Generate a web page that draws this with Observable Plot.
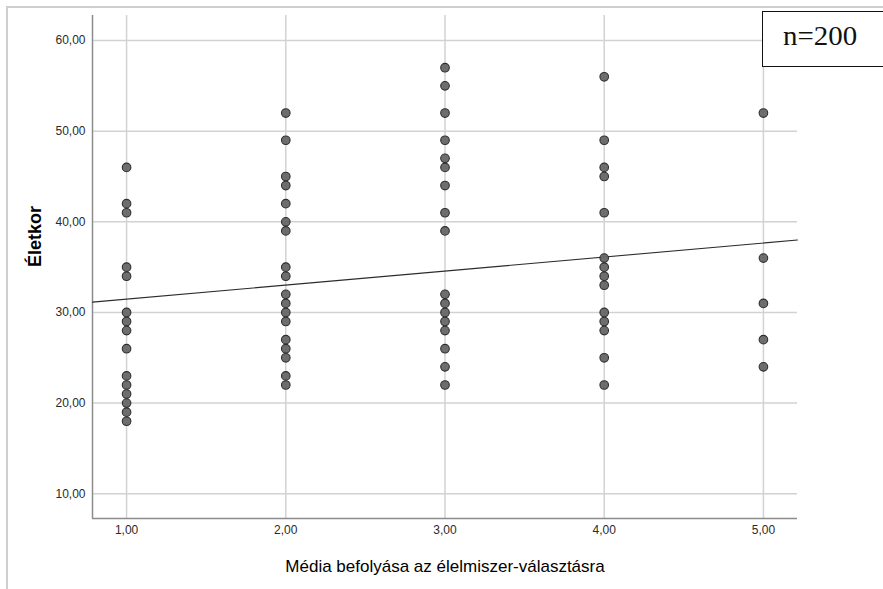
<!DOCTYPE html>
<html>
<head>
<meta charset="utf-8">
<script src="https://cdn.jsdelivr.net/npm/d3@7"></script>
<script src="https://cdn.jsdelivr.net/npm/@observablehq/plot@0.6"></script>
<style>
  html, body { margin: 0; padding: 0; background: #fff; }
  #wrap { position: relative; width: 883px; height: 589px; overflow: hidden; background: #fff; }
  #frame { position: absolute; left: 6px; top: 6px; width: 890px; height: 600px;
           border-top: 2px solid #cfcfcf; border-left: 2px solid #cfcfcf; box-sizing: border-box; }
  #chart { position: absolute; left: 0; top: 0; }
  #chart g[aria-label$="tick label"], #chart g[aria-label$="tick label"] text { font-size: 12px !important; }
  #nbox { position: absolute; left: 762px; top: 11px; width: 140px; height: 56px;
          border: 1.5px solid #111; box-sizing: border-box; background: #fff; }
  #nbox span { position: absolute; left: 20px; top: 9px; font-family: "Liberation Serif", "Times New Roman", serif;
               font-size: 27px; color: #111; transform: scaleX(1.07); transform-origin: left center; white-space: nowrap; }
</style>
</head>
<body>
<div id="wrap">
  <div id="frame"></div>
  <div id="chart"></div>
  <div id="nbox"><span>n=200</span></div>
</div>
<script>
// Data (distinct visible points per category)
const col1 = [46, 42, 41, 35, 34, 30, 29, 28, 26, 23, 22, 21, 20, 19, 18];
const col2 = [52, 49, 45, 44, 42, 40, 39, 35, 34, 32, 31, 30, 29, 27, 26, 25, 23, 22];
const col3 = [57, 55, 52, 49, 47, 46, 44, 41, 39, 32, 31, 30, 29, 28, 26, 24, 22];
const col4 = [56, 49, 46, 45, 41, 36, 35, 34, 33, 30, 29, 28, 25, 22];
const col5 = [52, 36, 31, 27, 24];
const categories = [1, 2, 3, 4, 5];
const xTicks = [1, 2, 3, 4, 5];
const yTicks = [10, 20, 30, 40, 50, 60];
const fitIntercept = 29.93;
const fitSlope = 1.546;
const xLabel = "Média befolyása az élelmiszer-választásra";
const yLabel = "Életkor";
const nLabel = "n=200";

const xDomain = [0.786, 5.214];
const yDomain = [7.27, 62.76];

const columns = [col1, col2, col3, col4, col5];
const points = columns.flatMap((vals, i) => vals.map(v => ({x: categories[i], y: v})));
const fitLine = xDomain.map(x => ({x, y: fitIntercept + fitSlope * x}));
const fmt = d => d.toFixed(2).replace(".", ",");

const font = "'Liberation Sans', Arial, sans-serif";

const chart = Plot.plot({
  width: 883,
  height: 589,
  marginLeft: 92,
  marginRight: 86,
  marginTop: 15,
  marginBottom: 71,
  style: { fontFamily: font, background: "transparent", overflow: "visible" },
  x: { domain: xDomain, label: null },
  y: { domain: yDomain, label: null },
  marks: [
    Plot.gridX(xTicks, { stroke: "#d2d2d2", strokeOpacity: 1, strokeWidth: 1.5 }),
    Plot.gridY(yTicks, { stroke: "#d2d2d2", strokeOpacity: 1, strokeWidth: 1.5 }),
    Plot.ruleX([xDomain[0]], { stroke: "#8c8c8c", strokeWidth: 1.5 }),
    Plot.ruleY([yDomain[0]], { stroke: "#8c8c8c", strokeWidth: 1.5 }),
    Plot.line(fitLine, { x: "x", y: "y", stroke: "#2b2b2b", strokeWidth: 1.1 }),
    Plot.dot(points, { x: "x", y: "y", r: 4.3, fill: "#666", fillOpacity: 0.95, stroke: "#2e2e2e", strokeWidth: 1.1 }),
    Plot.axisX(xTicks, { tickSize: 0, tickPadding: 7, tickFormat: fmt, fill: "#2a2a2a", label: null }),
    Plot.axisY(yTicks, { tickSize: 0, tickPadding: 7, tickFormat: fmt, fill: "#2a2a2a", label: null }),
    Plot.text([xLabel], { frameAnchor: "bottom", dy: 48, text: d => d, fontSize: 17, fill: "#000", lineAnchor: "middle" }),
    Plot.text([yLabel], { frameAnchor: "left", dx: -57, rotate: -90, text: d => d, fontSize: 18, fontWeight: "bold", fill: "#000", lineAnchor: "middle" })
  ]
});
document.getElementById("chart").appendChild(chart);
document.querySelector("#nbox span").textContent = nLabel;
</script>
</body>
</html>
